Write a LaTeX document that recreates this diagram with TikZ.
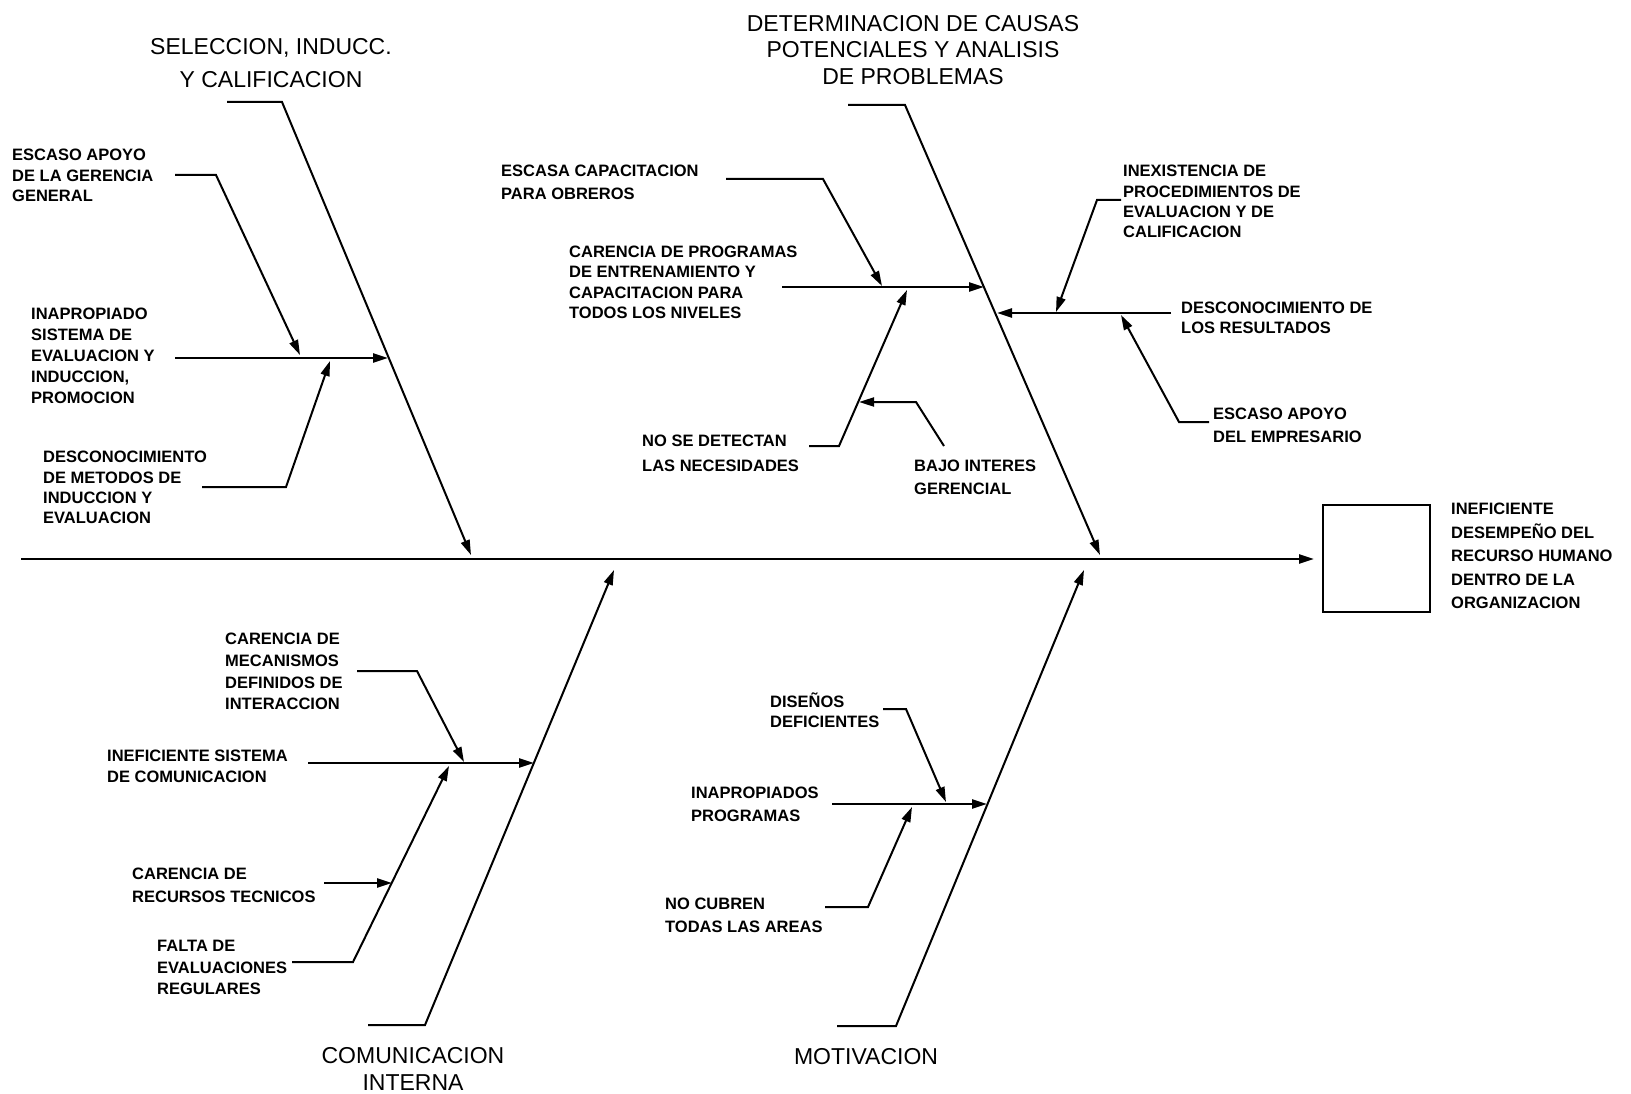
\documentclass[tikz,border=0pt]{standalone}
\usepackage{fontspec}
\setmainfont{Liberation Sans}
\usetikzlibrary{arrows.meta}
\tikzset{
  lbl/.style={font=\fontsize{16.5}{21}\selectfont\bfseries, align=left, anchor=north west, inner sep=0pt},
  ttl/.style={font=\fontsize{23}{28}\selectfont, align=center, inner sep=0pt},
  bone/.style={line width=2pt, line join=miter},
  twig/.style={line width=2.5pt, line join=miter},
  arr/.style={-{Triangle[length=15pt,width=9pt]}},
}
\begin{document}
\begin{tikzpicture}[x=1pt,y=-1pt]
\useasboundingbox (0,0) rectangle (1631,1094);

% ---------------- spine and effect box
\node[draw, line width=2pt, minimum width=107pt, minimum height=107pt, anchor=north west, inner sep=0pt] (box) at (1322,504) {};
\coordinate (sp0) at (21,559);
\coordinate (spT) at (1314,559);
\draw[twig,arr] (sp0) -- (spT);
\node[lbl, font=\fontsize{16.5}{23.5}\selectfont\bfseries] (res) at (1451,503) {INEFICIENTE\\DESEMPEÑO DEL\\RECURSO HUMANO\\DENTRO DE LA\\ORGANIZACION};

% ---------------- SELECCION
\node[ttl, font=\fontsize{23}{33}\selectfont] (tsel) at (271,63) {SELECCION, INDUCC.\\Y CALIFICACION};
\coordinate (s0) at (227,102);
\coordinate (s1) at (282,102);
\coordinate (sT) at (471,555);
\draw[bone,arr] (s0) -- (s1) -- (sT);

\node[lbl, font=\fontsize{16.5}{20.5}\selectfont\bfseries] (esg) at (12,149) {ESCASO APOYO\\DE LA GERENCIA\\GENERAL};
\coordinate (esg0) at (175,175);
\coordinate (esg1) at (216,175);
\coordinate (esgT) at (300,355);
\draw[bone,arr] (esg0) -- (esg1) -- (esgT);

\node[lbl] (inap) at (31,308) {INAPROPIADO\\SISTEMA DE\\EVALUACION Y\\INDUCCION,\\PROMOCION};
\coordinate (inap0) at (175,358);
\coordinate (inapT) at (388,358);
\draw[twig,arr] (inap0) -- (inapT);

\node[lbl, font=\fontsize{16.5}{20.3}\selectfont\bfseries] (desm) at (43,451) {DESCONOCIMIENTO\\DE METODOS DE\\INDUCCION Y\\EVALUACION};
\coordinate (desm0) at (202,487);
\coordinate (desm1) at (286,487);
\coordinate (desmT) at (330,361);
\draw[bone,arr] (desm0) -- (desm1) -- (desmT);

% ---------------- DETERMINACION
\node[ttl, font=\fontsize{23}{26.5}\selectfont] (tdet) at (913,50) {DETERMINACION DE CAUSAS\\POTENCIALES Y ANALISIS\\DE PROBLEMAS};
\coordinate (d0) at (848,105);
\coordinate (d1) at (905,105);
\coordinate (dT) at (1100,555);
\draw[bone,arr] (d0) -- (d1) -- (dT);

\node[lbl, font=\fontsize{16.5}{23}\selectfont\bfseries] (esc) at (501,165) {ESCASA CAPACITACION\\PARA OBREROS};
\coordinate (esc0) at (726,179);
\coordinate (esc1) at (823,179);
\coordinate (escT) at (882,286);
\draw[bone,arr] (esc0) -- (esc1) -- (escT);

\node[lbl, font=\fontsize{16.5}{20.2}\selectfont\bfseries] (carp) at (569,246) {CARENCIA DE PROGRAMAS\\DE ENTRENAMIENTO Y\\CAPACITACION PARA\\TODOS LOS NIVELES};
\coordinate (carp0) at (782,287);
\coordinate (carpT) at (984,287);
\draw[twig,arr] (carp0) -- (carpT);

\node[lbl, font=\fontsize{16.5}{25}\selectfont\bfseries] (nose) at (642,435) {NO SE DETECTAN\\LAS NECESIDADES};
\coordinate (nose0) at (809,446);
\coordinate (nose1) at (839,446);
\coordinate (noseT) at (907,290);
\draw[bone,arr] (nose0) -- (nose1) -- (noseT);

\node[lbl, font=\fontsize{16.5}{23}\selectfont\bfseries] (bajo) at (914,460) {BAJO INTERES\\GERENCIAL};
\coordinate (bajo0) at (944,446);
\coordinate (bajo1) at (916,402);
\coordinate (bajoT) at (859,402);
\draw[bone,arr] (bajo0) -- (bajo1) -- (bajoT);

\node[lbl, font=\fontsize{16.5}{20.3}\selectfont\bfseries] (inex) at (1123,165) {INEXISTENCIA DE\\PROCEDIMIENTOS DE\\EVALUACION Y DE\\CALIFICACION};
\coordinate (inex0) at (1121,200);
\coordinate (inex1) at (1097,200);
\coordinate (inexT) at (1056,312);
\draw[bone,arr] (inex0) -- (inex1) -- (inexT);

\node[lbl, font=\fontsize{16.5}{19.5}\selectfont\bfseries] (desr) at (1181,302) {DESCONOCIMIENTO DE\\LOS RESULTADOS};
\coordinate (desr0) at (1171,313);
\coordinate (desrT) at (997,313);
\draw[twig,arr] (desr0) -- (desrT);

\node[lbl, font=\fontsize{16.5}{23}\selectfont\bfseries] (ese) at (1213,408) {ESCASO APOYO\\DEL EMPRESARIO};
\coordinate (ese0) at (1209,422);
\coordinate (ese1) at (1179,422);
\coordinate (eseT) at (1121,315);
\draw[bone,arr] (ese0) -- (ese1) -- (eseT);

% ---------------- COMUNICACION INTERNA
\node[ttl, font=\fontsize{23}{27.5}\selectfont] (tcom) at (413,1069) {COMUNICACION\\INTERNA};
\coordinate (c0) at (368,1025);
\coordinate (c1) at (425,1025);
\coordinate (cT) at (614,570);
\draw[bone,arr] (c0) -- (c1) -- (cT);

\node[lbl, font=\fontsize{16.5}{21.7}\selectfont\bfseries] (carm) at (225,633) {CARENCIA DE\\MECANISMOS\\DEFINIDOS DE\\INTERACCION};
\coordinate (carm0) at (357,671);
\coordinate (carm1) at (417,671);
\coordinate (carmT) at (464,762);
\draw[bone,arr] (carm0) -- (carm1) -- (carmT);

\node[lbl, font=\fontsize{16.5}{20.5}\selectfont\bfseries] (inef) at (107,750) {INEFICIENTE SISTEMA\\DE COMUNICACION};
\coordinate (inef0) at (308,763);
\coordinate (inefT) at (534,763);
\draw[twig,arr] (inef0) -- (inefT);

\node[lbl, font=\fontsize{16.5}{23}\selectfont\bfseries] (carr) at (132,868) {CARENCIA DE\\RECURSOS TECNICOS};
\coordinate (carr0) at (324,883);
\coordinate (carrT) at (392,883);
\draw[twig,arr] (carr0) -- (carrT);

\node[lbl, font=\fontsize{16.5}{21.5}\selectfont\bfseries] (falta) at (157,940) {FALTA DE\\EVALUACIONES\\REGULARES};
\coordinate (falta0) at (292,962);
\coordinate (falta1) at (353,962);
\coordinate (faltaT) at (449,766);
\draw[bone,arr] (falta0) -- (falta1) -- (faltaT);

% ---------------- MOTIVACION
\node[ttl] (tmot) at (866,1057) {MOTIVACION};
\coordinate (m0) at (837,1026);
\coordinate (m1) at (896,1026);
\coordinate (mT) at (1084,570);
\draw[bone,arr] (m0) -- (m1) -- (mT);

\node[lbl, font=\fontsize{16.5}{19.5}\selectfont\bfseries] (dise) at (770,693) {DISEÑOS\\DEFICIENTES};
\coordinate (dise0) at (883,709);
\coordinate (dise1) at (906,709);
\coordinate (diseT) at (946,802);
\draw[bone,arr] (dise0) -- (dise1) -- (diseT);

\node[lbl, font=\fontsize{16.5}{23}\selectfont\bfseries] (inpr) at (691,787) {INAPROPIADOS\\PROGRAMAS};
\coordinate (inpr0) at (832,804);
\coordinate (inprT) at (987,804);
\draw[twig,arr] (inpr0) -- (inprT);

\node[lbl, font=\fontsize{16.5}{23}\selectfont\bfseries] (nocu) at (665,898) {NO CUBREN\\TODAS LAS AREAS};
\coordinate (nocu0) at (825,907);
\coordinate (nocu1) at (868,907);
\coordinate (nocuT) at (912,807);
\draw[bone,arr] (nocu0) -- (nocu1) -- (nocuT);

\end{tikzpicture}
\end{document}
